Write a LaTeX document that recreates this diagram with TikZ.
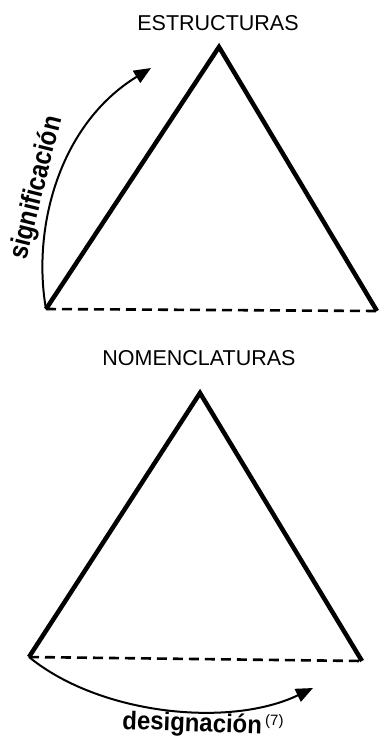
\documentclass[tikz,border=0pt]{standalone}
\usepackage{fontspec}
\setmainfont{Liberation Sans}
\usetikzlibrary{arrows.meta}
\tikzset{
  tri/.style={line width=4.5pt, line join=miter, line cap=butt},
  base/.style={line width=2.6pt, dash pattern=on 10pt off 6pt},
  curvearrow/.style={line width=2pt, -{Triangle[length=17pt,width=14pt]}},
  title/.style={font=\fontsize{21.5}{25}\selectfont, inner sep=0pt},
  lbl/.style={font=\fontsize{23}{26}\selectfont\bfseries, inner sep=0pt},
}
\begin{document}
\begin{tikzpicture}[x=1pt,y=-1pt]
\useasboundingbox (0,0) rectangle (382,740);
% top triangle
\coordinate (tA) at (219,47);
\coordinate (tL) at (46,309);
\coordinate (tR) at (377,311);
\draw[tri] (tR) -- (tA) -- (tL);
\draw[base] (tL) -- (tR);
\node[title] (tT) at (218,23) {ESTRUCTURAS};
\coordinate (tArr) at (151,68);
\draw[curvearrow] (tL) .. controls (32,230) and (58,125) .. (tArr);
\node[lbl, rotate=76] (sig) at (37,188) {\scalebox{1.04}[1.2]{significación}};
% bottom triangle
\coordinate (bA) at (200,393);
\coordinate (bL) at (29,657);
\coordinate (bR) at (362,661);
\draw[tri] (bR) -- (bA) -- (bL);
\draw[base] (bL) -- (bR);
\node[title] (bT) at (199,358) {NOMENCLATURAS};
\coordinate (bArr) at (313,688);
\draw[curvearrow] (bL) .. controls (100,715) and (230,728) .. (bArr);
\node[lbl, anchor=base west, rotate=-2] (des) at (122,729) {\scalebox{1.04}[1.12]{designación}};
\node[inner sep=0pt, anchor=base west, font=\fontsize{15}{17}\selectfont] (seven) at (265,725) {(7)};
\end{tikzpicture}
\end{document}
